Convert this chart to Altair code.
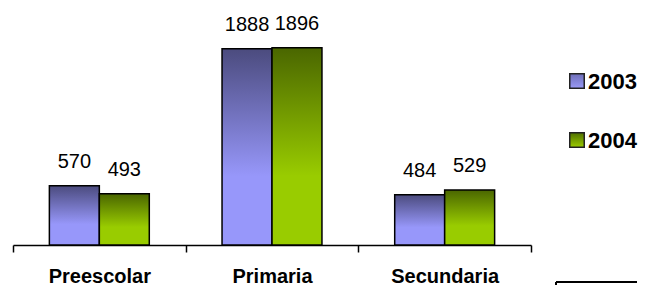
import altair as alt
import pandas as pd

categories = ["Preescolar", "Primaria", "Secundaria"]
years = ["2003", "2004"]
v2003 = [570, 1888, 484]
v2004 = [493, 1896, 529]

rows = []
for c, a, b in zip(categories, v2003, v2004):
    rows.append({"nivel": c, "anio": "2003", "valor": a})
    rows.append({"nivel": c, "anio": "2004", "valor": b})
df = pd.DataFrame(rows)
leg = pd.DataFrame({"anio": years})


def grad(dark, light, mid=0.65):
    return alt.LinearGradient(
        gradient="linear", x1=0, y1=0, x2=0, y2=1,
        stops=[alt.GradientStop(offset=0, color=dark),
               alt.GradientStop(offset=mid, color=light),
               alt.GradientStop(offset=1, color=light)])


g2003 = grad("#4b4b7e", "#9797fa")
g2004 = grad("#4a6600", "#99cc00")
lg2003 = grad("#6e6eb8", "#9a9af6", 1)
lg2004 = grad("#4f7000", "#9ccc00", 1)

FONT = "Liberation Sans"

x_enc = alt.X("nivel:N", sort=categories,
              scale=alt.Scale(paddingInner=0, paddingOuter=0),
              axis=alt.Axis(title=None, labelAngle=0, labelFont=FONT, labelFontSize=20,
                            labelFontWeight="bold", labelColor="black",
                            domainColor="black", domainWidth=1.5,
                            tickColor="black", tickWidth=1.5, tickSize=7,
                            tickBand="extent", labelPadding=14))
xo_enc = alt.XOffset("anio:N", scale=alt.Scale(domain=years, paddingInner=0, paddingOuter=0.728))
y_enc = alt.Y("valor:Q", scale=alt.Scale(domain=[0, 2000]), axis=None)

base = alt.Chart(df).encode(x=x_enc, xOffset=xo_enc, y=y_enc)

bars03 = base.transform_filter(alt.datum.anio == "2003").mark_bar(
    fill=g2003, stroke="black", strokeWidth=1.5)
bars04 = base.transform_filter(alt.datum.anio == "2004").mark_bar(
    fill=g2004, stroke="black", strokeWidth=1.5)
labels = base.mark_text(dy=-18, baseline="alphabetic", font=FONT, fontSize=20,
                        color="black").encode(text="valor:Q")

legend_y = {"2003": 44, "2004": 103}
LX = 564
leg_sq03 = alt.Chart(leg).transform_filter(alt.datum.anio == "2003").mark_square(
    size=210, fill=lg2003, stroke="#222222", strokeWidth=1.5, opacity=1).encode(
    x=alt.value(LX), y=alt.value(legend_y["2003"]))
leg_sq04 = alt.Chart(leg).transform_filter(alt.datum.anio == "2004").mark_square(
    size=210, fill=lg2004, stroke="#222222", strokeWidth=1.5, opacity=1).encode(
    x=alt.value(LX), y=alt.value(legend_y["2004"]))
leg_t03 = alt.Chart(leg).transform_filter(alt.datum.anio == "2003").mark_text(
    align="left", baseline="middle", font=FONT, fontSize=22, fontWeight="bold",
    color="black").encode(x=alt.value(LX + 11), y=alt.value(legend_y["2003"] + 1), text="anio:N")
leg_t04 = alt.Chart(leg).transform_filter(alt.datum.anio == "2004").mark_text(
    align="left", baseline="middle", font=FONT, fontSize=22, fontWeight="bold",
    color="black").encode(x=alt.value(LX + 11), y=alt.value(legend_y["2004"] + 1), text="anio:N")

box_top = alt.Chart(leg).transform_filter(alt.datum.anio == "2003").mark_rule(
    color="black", strokeWidth=2).encode(x=alt.value(543), x2=alt.value(624), y=alt.value(245))
box_left = alt.Chart(leg).transform_filter(alt.datum.anio == "2003").mark_rule(
    color="black", strokeWidth=2).encode(x=alt.value(543), y=alt.value(245), y2=alt.value(248))

chart = alt.layer(bars03, bars04, labels, leg_sq03, leg_sq04, leg_t03, leg_t04,
                  box_top, box_left).properties(
    width=518, height=208,
    padding={"left": 4, "top": 5, "right": 0, "bottom": 0},
    background="white",
).configure_view(stroke=None)

chart.save("out.html", embed_options={"renderer": "svg", "actions": False})
